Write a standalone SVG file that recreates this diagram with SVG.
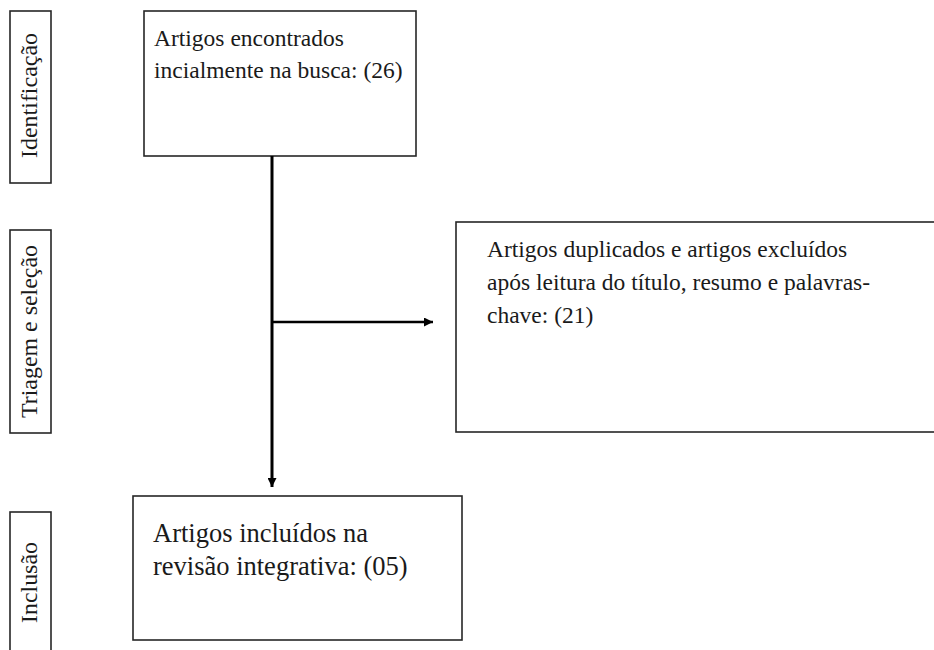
<svg xmlns="http://www.w3.org/2000/svg" width="934" height="650" viewBox="0 0 934 650">
<style>
.box{fill:#fff;stroke:#262626;stroke-width:1.6}
.t{font-size:23.5px;fill:#1a1a1a}
.tb{font-size:26.5px;fill:#1a1a1a}
.side{font-size:23px;fill:#1a1a1a;text-anchor:middle}
.con{stroke:#000;fill:none}
</style>
<defs>
<marker id="ah" viewBox="0 0 10 10" refX="10" refY="5" markerWidth="10" markerHeight="9" markerUnits="userSpaceOnUse" orient="auto">
<path d="M0,0 L10,5 L0,10 Z" fill="#000"/>
</marker>
</defs>
<rect width="934" height="650" fill="#fff"/>
<g font-family="'Liberation Serif', 'Times New Roman', serif">
<g id="fase-identificacao">
<rect class="box" x="10" y="11" width="41" height="172"/>
<text class="side" transform="translate(37,95.5) rotate(-90)" textLength="125" lengthAdjust="spacingAndGlyphs">Identificação</text>
</g>
<g id="fase-triagem">
<rect class="box" x="10" y="230" width="41" height="203"/>
<text class="side" transform="translate(37,331.5) rotate(-90)" textLength="173" lengthAdjust="spacingAndGlyphs">Triagem e seleção</text>
</g>
<g id="fase-inclusao">
<rect class="box" x="10" y="512" width="41" height="150"/>
<text class="side" transform="translate(37,582.5) rotate(-90)" textLength="81" lengthAdjust="spacingAndGlyphs">Inclusão</text>
</g>
<g id="encontrados">
<rect class="box" x="144" y="11" width="272" height="145"/>
<text class="t" x="154" y="45.5">Artigos encontrados</text>
<text class="t" x="154" y="78">incialmente na busca: (26)</text>
</g>
<g id="excluidos">
<rect class="box" x="456" y="222" width="490" height="210"/>
<text class="t" x="487" y="256.5">Artigos duplicados e artigos excluídos</text>
<text class="t" x="487" y="289.5">após leitura do título, resumo e palavras-</text>
<text class="t" x="487" y="322.5">chave: (21)</text>
</g>
<g id="incluidos">
<rect class="box" x="133" y="496" width="329" height="144"/>
<text class="tb" x="153" y="541.5">Artigos incluídos na</text>
<text class="tb" x="153" y="574.5">revisão integrativa: (05)</text>
</g>
</g>
<g id="connectors">
<line class="con" x1="272" y1="156" x2="272" y2="487" stroke-width="3" marker-end="url(#ah)"/>
<line class="con" x1="272" y1="322" x2="433" y2="322" stroke-width="2.5" marker-end="url(#ah)"/>
</g>
</svg>
